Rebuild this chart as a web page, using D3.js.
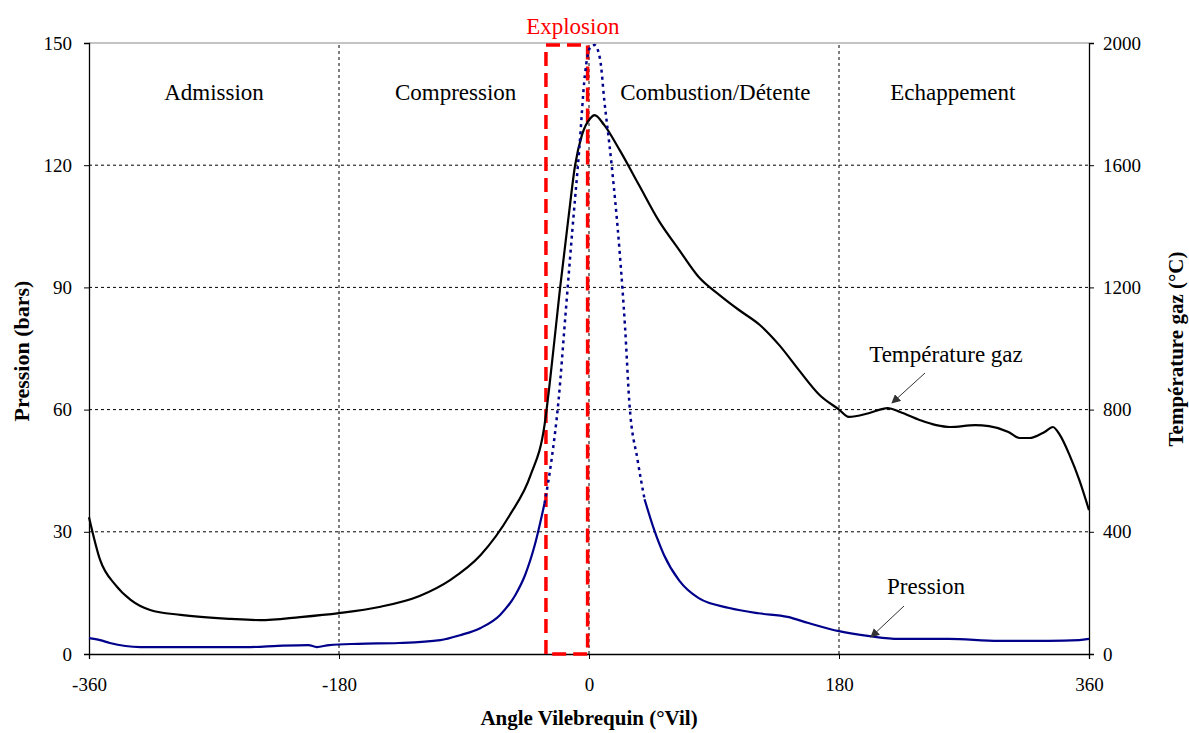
<!DOCTYPE html>
<html>
<head>
<meta charset="utf-8">
<script src="https://cdn.jsdelivr.net/npm/d3@7"></script>
<style>
  body { margin: 0; background: #fff; }
  text { font-family: "Liberation Serif", "Times New Roman", serif; }
</style>
</head>
<body>
<div class="chart"></div>
<script>
const width = 1189,
    height = 733;
const margin = {top: 43, right: 100, bottom: 79, left: 89};

// temperature (°C) vs crank angle
const tempAngle = [-360,-352,-341,-330,-316,-294,-258,-237,-208,-180,-151,-122,-100,-78,-57,-42,-32,-28,-21,-15,-10,-5,1,4,11,22,36,50,65,79,94,108,123,137,151,166,180,187,202,215,224,238,250,260,278,288,302,310,317,328,334,339,346,353,360];
const tempValue = [448,308,226,177,144,128,115,111,121,134,154,190,242,324,455,586,750,897,1191,1420,1600,1700,1754,1764,1731,1650,1535,1420,1322,1234,1175,1126,1077,1011,930,848,800,776,789,805,792,766,749,743,749,746,727,707,707,727,743,717,651,570,471];

// pressure (bars) vs crank angle
const presAngle = [-360,-352,-345,-323,-280,-244,-224,-202,-196,-187,-166,-137,-107,-93,-78,-64,-53,-46,-39,-32,-27,-22,-17,-12,-7,-3,1,4,8,11,16,22,26,29,35,40,47,54,65,79,101,122,143,158,180,202,223,259,295,331,353,360];
const presValue = [3.9,3.4,2.7,1.7,1.7,1.7,2.0,2.2,1.7,2.2,2.5,2.7,3.4,4.6,6.4,9.6,14.5,19.4,26.8,37,47.6,62,83,104,124,142,149,149.5,146,136,121,99,80,62,47.6,38,30.4,24.3,18,13.7,11.3,10,9.1,7.6,5.6,4.4,3.7,3.7,3.2,3.2,3.4,3.7];

const xTicks = [-360,-180,0,180,360];
const yTicks = [0,30,60,90,120,150];
const y2Ticks = [0,400,800,1200,1600,2000];
const phases = ["Admission","Compression","Combustion/Détente","Echappement"];
const phaseCenters = [-270,-96,91,262];
const explosion = [-31,-1];

const svg = d3.select(".chart").append("svg")
    .attr("width", width)
    .attr("height", height);

const x = d3.scaleLinear().domain([-360,360]).range([margin.left, width - margin.right]);
const y = d3.scaleLinear().domain([0,150]).range([height - margin.bottom, margin.top]);
const y2 = d3.scaleLinear().domain([0,2000]).range([height - margin.bottom, margin.top]);

// grid
svg.append("g").selectAll("line")
    .data(yTicks.filter(d => d > 0 && d < 150))
    .enter().append("line")
    .attr("x1", x(-360)).attr("x2", x(360))
    .attr("y1", d => y(d)).attr("y2", d => y(d))
    .style("stroke", "#000").style("stroke-dasharray", "3,3");
svg.append("g").selectAll("line")
    .data(xTicks.filter(d => d > -360 && d < 360))
    .enter().append("line")
    .attr("x1", d => x(d)).attr("x2", d => x(d))
    .attr("y1", y(0)).attr("y2", y(150))
    .style("stroke", "#000").style("stroke-dasharray", "3,3");
svg.append("line")
    .attr("x1", x(-360)).attr("x2", x(360))
    .attr("y1", y(150)).attr("y2", y(150))
    .style("stroke", "#888");

// axes
const fmt = d => String(d);
const axisLeft = svg.append("g")
    .attr("transform", `translate(${x(-360)},0)`)
    .call(d3.axisLeft(y).tickValues(yTicks).tickFormat(fmt).tickSize(5).tickPadding(12));
const axisRight = svg.append("g")
    .attr("transform", `translate(${x(360)},0)`)
    .call(d3.axisRight(y2).tickValues(y2Ticks).tickFormat(fmt).tickSize(5).tickPadding(9));
const axisBottom = svg.append("g")
    .attr("transform", `translate(0,${y(0)})`)
    .call(d3.axisBottom(x).tickValues(xTicks).tickFormat(fmt).tickSize(5).tickPadding(19));
[axisLeft, axisRight, axisBottom].forEach(g => {
  g.select(".domain").style("stroke", "#000").style("stroke-width", 1.3);
  g.selectAll(".tick line").style("stroke", "#000");
  g.selectAll("text").style("font-family", "Liberation Serif").style("font-size", "19px").style("fill", "#000");
});

// phase labels
svg.append("g").selectAll("text")
    .data(phases)
    .enter().append("text")
    .attr("x", (d, i) => x(phaseCenters[i]))
    .attr("y", 100)
    .attr("text-anchor", "middle")
    .style("font-size", "23px")
    .text(d => d);

// explosion box
const ex = [x(explosion[0]), x(explosion[1])];
svg.append("path")
    .attr("d", `M${ex[0]},${y(0)} L${ex[0]},${y(149.5)} L${ex[1]},${y(149.5)} L${ex[1]},${y(0)} Z`)
    .style("fill", "none")
    .style("stroke", "#ff0000")
    .style("stroke-width", 3.5)
    .style("stroke-dasharray", "14,7");
svg.append("text")
    .attr("x", (ex[0] + ex[1]) / 2 + 6)
    .attr("y", 34)
    .attr("text-anchor", "middle")
    .style("fill", "#ff0000")
    .style("font-size", "23px")
    .text("Explosion");

// temperature line
const tempData = tempAngle.map((a, i) => [a, tempValue[i]]);
svg.append("path")
    .datum(tempData)
    .attr("d", d3.line().x(d => x(d[0])).y(d => y2(d[1])).curve(d3.curveMonotoneX))
    .style("fill", "none").style("stroke", "#000").style("stroke-width", 2.2);

// pressure line: solid at low values, dotted on the steep peak
const presData = presAngle.map((a, i) => [a, presValue[i]]);
const presLine = d3.line().x(d => x(d[0])).y(d => y(d[1])).curve(d3.curveMonotoneX);
svg.append("path")
    .datum(presData.filter(d => d[0] <= -32))
    .attr("d", presLine)
    .style("fill", "none").style("stroke", "#00008b").style("stroke-width", 2.2);
svg.append("path")
    .datum(presData.filter(d => d[0] >= 40))
    .attr("d", presLine)
    .style("fill", "none").style("stroke", "#00008b").style("stroke-width", 2.2);
svg.append("path")
    .datum(presData.filter(d => d[0] >= -32 && d[0] <= 40))
    .attr("d", presLine)
    .style("fill", "none").style("stroke", "#00008b").style("stroke-width", 2.5)
    .style("stroke-dasharray", "3,4");

// annotations
const defs = svg.append("defs");
defs.append("marker")
    .attr("id", "arrow")
    .attr("viewBox", "0 0 10 10")
    .attr("refX", 9).attr("refY", 5)
    .attr("markerWidth", 9).attr("markerHeight", 9)
    .attr("orient", "auto")
    .append("path").attr("d", "M0,0 L10,5 L0,10 Z").style("fill", "#333");

svg.append("text")
    .attr("x", 946).attr("y", 362)
    .attr("text-anchor", "middle")
    .style("font-size", "23px")
    .text("Température gaz");
svg.append("line")
    .attr("x1", 925).attr("y1", 373).attr("x2", 892).attr("y2", 403)
    .style("stroke", "#333").attr("marker-end", "url(#arrow)");

svg.append("text")
    .attr("x", 926).attr("y", 594)
    .attr("text-anchor", "middle")
    .style("font-size", "23px")
    .text("Pression");
svg.append("line")
    .attr("x1", 904).attr("y1", 606).attr("x2", 871).attr("y2", 637)
    .style("stroke", "#333").attr("marker-end", "url(#arrow)");

// axis titles
svg.append("text")
    .attr("transform", `translate(29,${351}) rotate(-90)`)
    .attr("text-anchor", "middle")
    .style("font-size", "22px").style("font-weight", "bold")
    .text("Pression (bars)");
svg.append("text")
    .attr("transform", `translate(1183,${349}) rotate(-90)`)
    .attr("text-anchor", "middle")
    .style("font-size", "21px").style("font-weight", "bold")
    .text("Température gaz (°C)");
svg.append("text")
    .attr("x", 589).attr("y", 725)
    .attr("text-anchor", "middle")
    .style("font-size", "21px").style("font-weight", "bold")
    .text("Angle Vilebrequin (°Vil)");
</script>
</body>
</html>
